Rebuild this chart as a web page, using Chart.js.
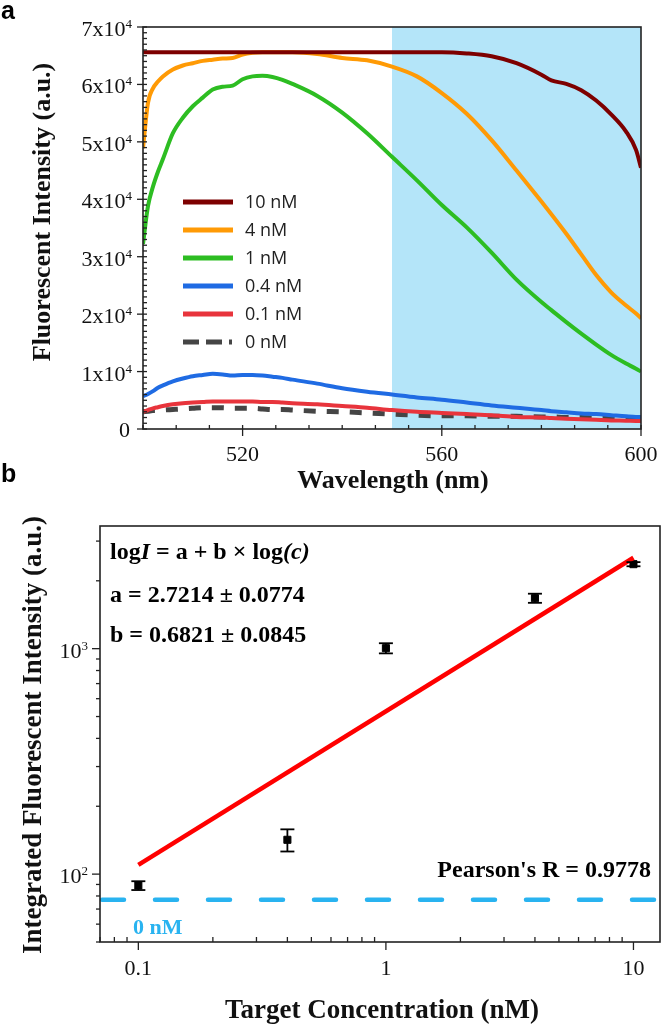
<!DOCTYPE html>
<html>
<head>
<meta charset="utf-8">
<title>Fluorescence spectra and calibration</title>
<script src="https://cdn.jsdelivr.net/npm/chart.js"></script>
<style>
  html, body { margin: 0; padding: 0; background: #fff; }
  #wrap { position: relative; width: 666px; height: 1025px; }
  #spectra { position: absolute; left: 0; top: 0; }
  #calib { position: absolute; left: 0; top: 455px; }
</style>
</head>
<body>
<div id="wrap">
  <canvas id="spectra" width="666" height="500"></canvas>
  <canvas id="calib" width="666" height="570"></canvas>
</div>
<script>
// ---------- panel a: emission spectra ----------
const wavelength = [500,501,502,503,504,506,508,510,512,514,516,518,520,522,524,526,528,530,535,540,545,550,555,560,565,570,575,580,582,585,588,591,594,597,599,600];
const int10nM = [65600,65600,65600,65600,65600,65600,65600,65600,65600,65600,65600,65600,65600,65600,65600,65600,65600,65600,65600,65600,65600,65600,65600,65600,65400,64900,63700,61700,60700,60100,59000,57200,54800,51800,48600,45500];
const int4nM = [48900,56800,59300,60500,61400,62600,63300,63700,64100,64300,64500,64600,65200,65500,65600,65600,65600,65600,65300,64600,64200,63100,61400,58500,54900,50300,45000,39600,37400,34000,30400,26800,23800,21500,20100,19300];
const int1nM = [32200,38800,42200,44800,47000,51500,54200,56200,57700,59100,59600,59800,60900,61400,61500,61300,60800,60100,58000,55100,51500,47400,43300,39000,35100,30700,26000,22100,20700,18600,16600,14700,12900,11400,10500,10000];
const int04nM = [5700,6100,6600,7200,7600,8300,8800,9200,9400,9600,9500,9300,9400,9400,9300,9100,8900,8600,7900,7100,6500,6000,5500,5100,4600,4100,3700,3300,3100,2900,2700,2600,2400,2200,2100,2100];
const int01nM = [3000,3300,3600,3800,4000,4300,4500,4600,4700,4800,4800,4800,4800,4800,4700,4700,4600,4500,4300,4000,3700,3300,3000,2800,2600,2400,2100,2000,1900,1800,1700,1600,1500,1450,1400,1400];
const int0nM = [3000,3100,3200,3200,3300,3400,3500,3600,3700,3700,3700,3600,3600,3600,3500,3400,3400,3300,3100,3000,2800,2600,2400,2300,2300,2200,2200,2100,2100,2000,2000,1900,1900,1800,1800,1800];

const seriesLabels = ['10 nM', '4 nM', '1 nM', '0.4 nM', '0.1 nM', '0 nM'];
const seriesData = [int10nM, int4nM, int1nM, int04nM, int01nM, int0nM];
const seriesColors = ['#7d0000', '#ff9a05', '#2dbd22', '#1f6be3', '#e8343c', '#454545'];
const shadeFrom = 550;
const xTicksA = [520, 560, 600];
const yTicksA = [0, 10000, 20000, 30000, 40000, 50000, 60000, 70000];

// ---------- panel b: calibration ----------
const conc = [0.1, 0.4, 1, 4, 10];
const integrated = [89, 142, 1005, 1675, 2370];
const integratedErr = [4, 16, 52, 78, 50];
const fitConc = [0.1, 10];
const fitIntensity = [110, 2530];
const blankLevel = 77;
const xTicksB = [0.1, 1, 10];
const yTicksB = [100, 1000];

const SERIF = '"Liberation Serif", "Times New Roman", serif';

function drawPow(ctx, base, exp, xRight, baseY, size) {
  ctx.textAlign = 'left';
  ctx.textBaseline = 'alphabetic';
  ctx.font = Math.round(size * 0.6) + 'px ' + SERIF;
  const we = exp ? ctx.measureText(exp).width : 0;
  ctx.font = size + 'px ' + SERIF;
  const wb = ctx.measureText(base).width;
  ctx.fillText(base, xRight - we - wb, baseY);
  if (exp) {
    ctx.font = Math.round(size * 0.6) + 'px ' + SERIF;
    ctx.fillText(exp, xRight - we, baseY - 8);
  }
}

function tick(ctx, x1, y1, x2, y2) {
  ctx.beginPath(); ctx.moveTo(x1, y1); ctx.lineTo(x2, y2); ctx.stroke();
}

const spectraDecor = {
  id: 'spectraDecor',
  beforeDatasetsDraw(chart) {
    const { ctx, chartArea: a, scales: { x } } = chart;
    const xs = x.getPixelForValue(shadeFrom);
    ctx.save();
    ctx.fillStyle = '#b4e5f9';
    ctx.fillRect(xs, a.top, a.right - xs, a.bottom - a.top);
    ctx.restore();
  },
  afterDraw(chart) {
    const { ctx, chartArea: a, scales: { x, y } } = chart;
    ctx.save();
    ctx.strokeStyle = '#222';
    ctx.lineWidth = 1.6;
    ctx.strokeRect(a.left, a.top, a.right - a.left, a.bottom - a.top);
    ctx.lineWidth = 1.3;
    // x ticks: major every 40 nm, 5 minor between
    for (let k = 0; k <= 15; k++) {
      const v = 500 + k * 40 / 6;
      const px = x.getPixelForValue(v);
      if (xTicksA.some(t => Math.abs(t - v) < 0.01)) tick(ctx, px, a.bottom - 4, px, a.bottom + 7);
      else tick(ctx, px, a.bottom, px, a.bottom - 4);
    }
    // y ticks
    for (let v = 0; v <= 70000; v += 1000) {
      const py = y.getPixelForValue(v);
      if (v % 10000 === 0) tick(ctx, a.left - 6, py, a.left + 4, py);
      else tick(ctx, a.left, py, a.left + 4, py);
    }
    ctx.fillStyle = '#111';
    yTicksA.forEach(v => {
      const py = y.getPixelForValue(v);
      if (v === 0) drawPow(ctx, '0', '', 130, py + 8, 22);
      else drawPow(ctx, (v / 10000) + 'x10', '4', 132, py + 9, 22);
    });
    ctx.font = '22px ' + SERIF;
    ctx.textAlign = 'center';
    ctx.textBaseline = 'alphabetic';
    xTicksA.forEach(v => ctx.fillText(String(v), x.getPixelForValue(v), 461));
    // axis titles
    ctx.font = 'bold 26px ' + SERIF;
    ctx.fillText('Wavelength (nm)', 393, 488);
    ctx.save();
    ctx.translate(43, 212);
    ctx.rotate(-Math.PI / 2);
    ctx.textBaseline = 'middle';
    ctx.fillText('Fluorescent Intensity (a.u.)', 0, 0);
    ctx.restore();
    // legend
    ctx.textAlign = 'left';
    ctx.textBaseline = 'middle';
    ctx.font = '18px "Open Sans", sans-serif';
    seriesLabels.forEach((lab, i) => {
      const ly = 202 + 28 * i;
      ctx.strokeStyle = seriesColors[i];
      ctx.lineWidth = 5;
      ctx.setLineDash(i === 5 ? [16, 7, 16, 7, 3, 60] : []);
      tick(ctx, 183, ly, 233, ly);
      ctx.setLineDash([]);
      ctx.fillStyle = '#222';
      ctx.fillText(lab, 245, ly + 1);
    });
    // panel letter
    ctx.fillStyle = '#000';
    ctx.font = 'bold 25px "Liberation Sans", Arial, sans-serif';
    ctx.textBaseline = 'alphabetic';
    ctx.fillText('a', 1, 19);
    ctx.restore();
  }
};

new Chart(document.getElementById('spectra'), {
  type: 'line',
  data: {
    datasets: seriesData.map((vals, i) => ({
      label: seriesLabels[i],
      data: wavelength.map((w, j) => ({ x: w, y: vals[j] })),
      borderColor: seriesColors[i],
      borderWidth: i === 5 ? 5 : 4,
      borderDash: i === 5 ? [12, 11] : [],
      pointRadius: 0,
      cubicInterpolationMode: 'monotone',
      fill: false
    }))
  },
  options: {
    responsive: false,
    animation: false,
    layout: { padding: { left: 143, top: 27, right: 25, bottom: 71 } },
    scales: {
      x: { type: 'linear', min: 500, max: 600, display: false },
      y: { min: 0, max: 70000, display: false }
    },
    plugins: { legend: { display: false }, tooltip: { enabled: false } }
  },
  plugins: [spectraDecor]
});

// canvas b starts 455px down the page; y values below are page y - 455
const calibDecor = {
  id: 'calibDecor',
  beforeDatasetsDraw(chart) {
    const { ctx, chartArea: a, scales: { y } } = chart;
    const py = y.getPixelForValue(blankLevel);
    ctx.save();
    ctx.strokeStyle = '#29b3f0';
    ctx.lineWidth = 4.5;
    ctx.lineCap = 'round';
    ctx.setLineDash([22, 31]);
    tick(ctx, a.left + 2, py, a.right, py);
    ctx.restore();
  },
  afterDatasetsDraw(chart) {
    const { ctx, scales: { x, y } } = chart;
    ctx.save();
    ctx.strokeStyle = '#000';
    ctx.lineWidth = 1.8;
    conc.forEach((c, i) => {
      const px = x.getPixelForValue(c);
      const top = y.getPixelForValue(integrated[i] + integratedErr[i]);
      const bot = y.getPixelForValue(integrated[i] - integratedErr[i]);
      tick(ctx, px, top, px, bot);
      tick(ctx, px - 7, top, px + 7, top);
      tick(ctx, px - 7, bot, px + 7, bot);
    });
    ctx.restore();
  },
  afterDraw(chart) {
    const { ctx, chartArea: a, scales: { x, y } } = chart;
    ctx.save();
    ctx.strokeStyle = '#222';
    ctx.lineWidth = 1.6;
    ctx.strokeRect(a.left, a.top, a.right - a.left, a.bottom - a.top);
    ctx.lineWidth = 1.3;
    [0.01, 0.1, 1, 10].forEach(d => {
      for (let m = 1; m <= 9; m++) {
        const v = m * d;
        if (v < x.min || v > x.max) continue;
        const px = x.getPixelForValue(v);
        if (m === 1) tick(ctx, px, a.bottom, px, a.bottom + 8);
        else tick(ctx, px, a.bottom, px, a.bottom - 5);
      }
    });
    [10, 100, 1000].forEach(d => {
      for (let m = 1; m <= 9; m++) {
        const v = m * d;
        if (v < y.min || v > y.max) continue;
        const py = y.getPixelForValue(v);
        tick(ctx, a.left - (m === 1 ? 8 : 4), py, a.left, py);
      }
    });
    ctx.fillStyle = '#111';
    yTicksB.forEach(v => {
      drawPow(ctx, '10', String(Math.round(Math.log10(v))), 88, y.getPixelForValue(v) + 9, 22);
    });
    ctx.font = '22px ' + SERIF;
    ctx.textAlign = 'center';
    ctx.textBaseline = 'alphabetic';
    xTicksB.forEach(v => ctx.fillText(String(v), x.getPixelForValue(v), 520));
    // axis titles
    ctx.font = 'bold 27px ' + SERIF;
    ctx.fillText('Target Concentration (nM)', 382, 563);
    ctx.save();
    ctx.translate(34, 280);
    ctx.rotate(-Math.PI / 2);
    ctx.textBaseline = 'middle';
    ctx.fillText('Integrated Fluorescent Intensity (a.u.)', 0, 0);
    ctx.restore();
    // annotations
    ctx.textAlign = 'left';
    ctx.fillStyle = '#000';
    const B = 'bold 24px ' + SERIF, BI = 'italic bold 24px ' + SERIF;
    let tx = 110;
    [['log', B], ['I', BI], [' = a + b \u00d7 log', B], ['(c)', BI]].forEach(([t, f]) => {
      ctx.font = f;
      ctx.fillText(t, tx, 104);
      tx += ctx.measureText(t).width;
    });
    ctx.font = B;
    ctx.fillText('a = 2.7214 \u00b1 0.0774', 110, 147);
    ctx.fillText('b = 0.6821 \u00b1 0.0845', 110, 187);
    ctx.textAlign = 'right';
    ctx.fillText("Pearson's R = 0.9778", 651, 422);
    ctx.textAlign = 'left';
    ctx.fillStyle = '#29b3f0';
    ctx.font = 'bold 22px ' + SERIF;
    ctx.fillText('0 nM', 133, 479);
    // panel letter
    ctx.fillStyle = '#000';
    ctx.font = 'bold 25px "Liberation Sans", Arial, sans-serif';
    ctx.fillText('b', 1, 27);
    ctx.restore();
  }
};

new Chart(document.getElementById('calib'), {
  type: 'scatter',
  data: {
    datasets: [
      {
        type: 'line',
        label: 'fit',
        data: fitConc.map((c, i) => ({ x: c, y: fitIntensity[i] })),
        borderColor: '#ff0000',
        borderWidth: 4.5,
        pointRadius: 0,
        fill: false
      },
      {
        label: 'measured',
        data: conc.map((c, i) => ({ x: c, y: integrated[i] })),
        pointStyle: 'rect',
        pointRadius: 5,
        backgroundColor: '#000',
        borderColor: '#000'
      }
    ]
  },
  options: {
    responsive: false,
    animation: false,
    layout: { padding: { left: 100, top: 71, right: 3, bottom: 83 } },
    scales: {
      x: { type: 'logarithmic', min: 0.07, max: 12.8, display: false },
      y: { type: 'logarithmic', min: 50, max: 3500, display: false }
    },
    plugins: { legend: { display: false }, tooltip: { enabled: false } }
  },
  plugins: [calibDecor]
});
</script>
</body>
</html>
